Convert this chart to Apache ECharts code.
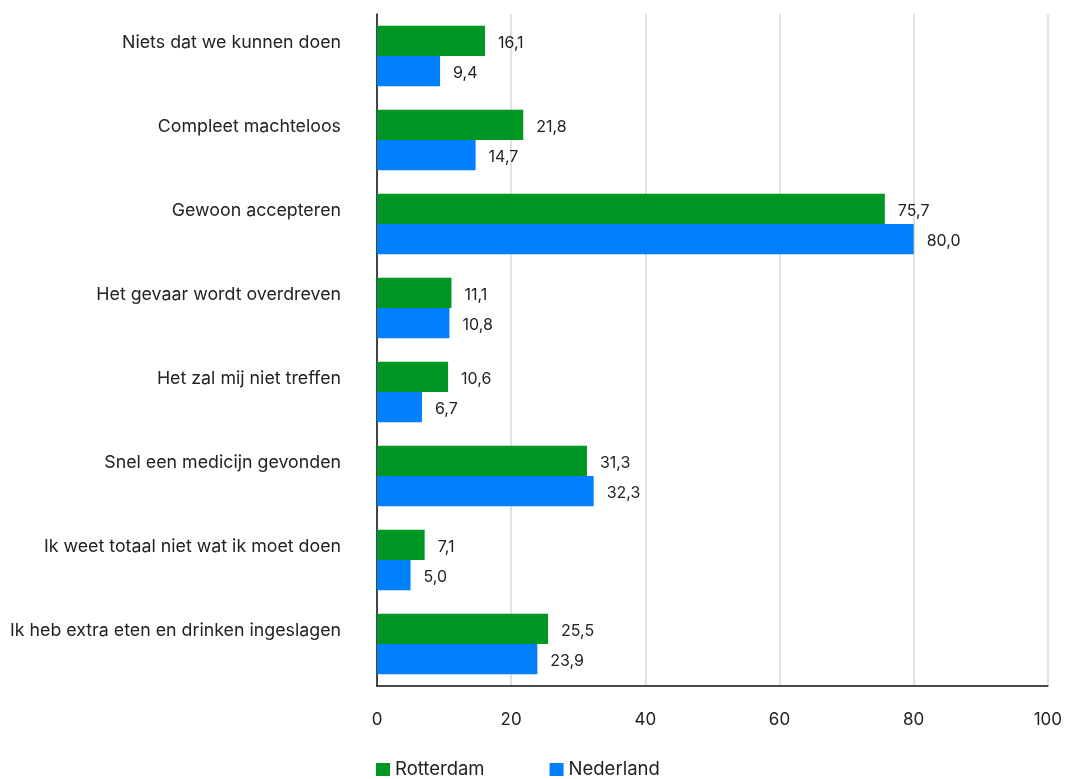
<!DOCTYPE html>
<html><head><meta charset="utf-8">
<script src="https://cdn.jsdelivr.net/npm/echarts@6/dist/echarts.min.js"></script>
<style>html,body{margin:0;padding:0;background:#fff}#c{width:1065px;height:779px}</style>
</head><body><div id="c"></div>
<script>
const categories = ["Niets dat we kunnen doen","Compleet machteloos","Gewoon accepteren","Het gevaar wordt overdreven","Het zal mij niet treffen","Snel een medicijn gevonden","Ik weet totaal niet wat ik moet doen","Ik heb extra eten en drinken ingeslagen"];
const rotterdam = [16.1, 21.8, 75.7, 11.1, 10.6, 31.3, 7.1, 25.5];
const nederland = [9.4, 14.7, 80.0, 10.8, 6.7, 32.3, 5.0, 23.9];
const seriesNames = ["Rotterdam", "Nederland"];
const FONT = 'Inter';
const fmt = p => p.value.toFixed(1).replace('.', ',');
const chart = echarts.init(document.getElementById('c'), null, {renderer:'canvas'});
chart.setOption({
  animation:false,
  textStyle:{fontFamily:FONT},
  grid:{left:377,right:14,top:14,bottom:93,containLabel:false},
  legend:{left:376,top:760,padding:0,itemWidth:14,itemHeight:13,itemGap:65,icon:'rect',
    textStyle:{fontFamily:FONT,fontSize:18.5,color:'#222'},data:seriesNames},
  xAxis:{type:'value',min:0,max:100,interval:20,
    axisLine:{show:true,lineStyle:{color:'#111',width:1.5}},
    axisTick:{show:false},
    splitLine:{show:true,lineStyle:{color:'#d9d9d9',width:1.5}},
    axisLabel:{fontFamily:FONT,fontSize:17,color:'#222',margin:25}},
  yAxis:{type:'category',data:categories,inverse:true,
    axisLine:{show:true,lineStyle:{color:'#111',width:1.5}},
    axisTick:{show:false},
    axisLabel:{fontFamily:FONT,fontSize:17.8,color:'#222',margin:36,verticalAlign:'bottom',lineHeight:26}},
  series:[
    {name:seriesNames[0],type:'bar',data:rotterdam,barGap:'0%',barCategoryGap:'28%',
     itemStyle:{color:'#009623'},
     label:{show:true,position:'right',distance:13,offset:[0,2],formatter:fmt,fontFamily:FONT,fontSize:16,color:'#222'}},
    {name:seriesNames[1],type:'bar',data:nederland,barGap:'0%',barCategoryGap:'28%',
     itemStyle:{color:'#0080ff'},
     label:{show:true,position:'right',distance:13,offset:[0,2],formatter:fmt,fontFamily:FONT,fontSize:16,color:'#222'}}
  ]
});
</script></body></html>
